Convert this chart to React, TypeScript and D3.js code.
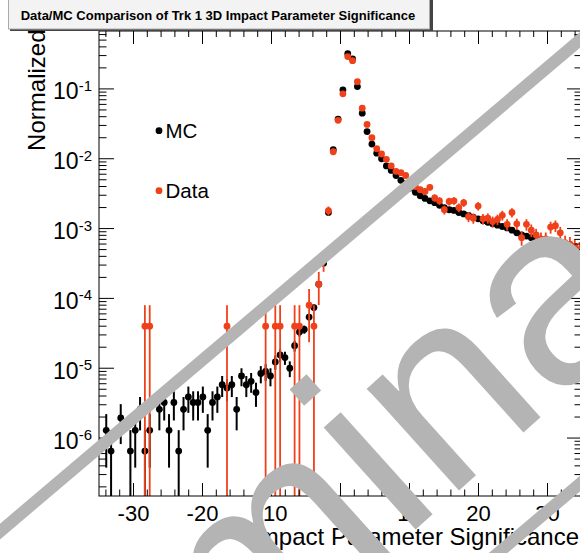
import React from "react";
import * as d3 from "d3";

// ---------- data ----------
const BIN_LOW = -35;
const BIN_WIDTH = 0.7;
const MC_UNIT_WEIGHT = 6.46e-7;
const DATA_UNIT_WEIGHT = 3.98e-5;

const mcValues = [
  0, 1.29e-6, 6.5e-7, 0, 1.94e-6, 0, 6.5e-7, 1.29e-6, 2.58e-6, 6.5e-7,
  1.29e-6, 0, 2.58e-6, 3.23e-6, 1.29e-6, 3.23e-6, 6.5e-7, 2.58e-6, 3.88e-6, 3.23e-6,
  3.23e-6, 3.88e-6, 1.29e-6, 3.23e-6, 3.88e-6, 5.8e-6, 5.2e-6, 5.8e-6, 2.58e-6, 7.75e-6,
  5.8e-6, 6.5e-6, 4.5e-6, 8.4e-6, 9.0e-6, 7.75e-6, 1.23e-5, 1.55e-5, 1.42e-5, 1.0e-5,
  2.1e-5, 3.3e-5, 3.6e-5, 5.4e-5, 7.4e-5, 1.6e-4, 3.2e-4, 1.7e-3, 1.35e-2, 3.7e-2,
  9.7e-2, 3.2e-1, 2.7e-1, 1.08e-1, 4.5e-2, 2.45e-2, 1.62e-2, 1.2e-2, 1.0e-2, 7.9e-3,
  6.8e-3, 5.75e-3, 4.9e-3, 4.4e-3, 3.8e-3, 3.3e-3, 2.95e-3, 2.7e-3, 2.5e-3, 2.35e-3,
  2.15e-3, 2.0e-3, 1.86e-3, 1.82e-3, 1.7e-3, 1.62e-3, 1.55e-3, 1.45e-3, 1.38e-3, 1.29e-3,
  1.23e-3, 1.17e-3, 1.12e-3, 1.07e-3, 1.02e-3, 9.5e-4, 8.7e-4, 8.1e-4, 7.8e-4, 7.4e-4,
  7.1e-4, 6.9e-4, 6.6e-4, 6.5e-4, 6.2e-4, 5.9e-4, 5.6e-4, 5.4e-4, 5.1e-4, 4.9e-4,
];

const dataValues = [
  0, 0, 0, 0, 0, 0, 0, 0, 0, 4e-5,
  4e-5, 0, 0, 0, 0, 0, 0, 0, 0, 0,
  0, 0, 0, 0, 0, 0, 4e-5, 0, 0, 0,
  0, 0, 0, 0, 4e-5, 0, 4e-5, 4e-5, 0, 0,
  4e-5, 4e-5, 0, 8e-5, 4e-5, 1.6e-4, 3.6e-4, 1.8e-3, 1.26e-2, 3.55e-2,
  8.5e-2, 2.9e-1, 2.54e-1, 1.27e-1, 5.3e-2, 3.1e-2, 2.0e-2, 1.39e-2, 1.17e-2, 9.8e-3,
  7.9e-3, 6.6e-3, 6.3e-3, 5.75e-3, 4.4e-3, 4.0e-3, 3.6e-3, 3.4e-3, 3.9e-3, 2.75e-3,
  2.5e-3, 1.86e-3, 2.45e-3, 2.5e-3, 2.0e-3, 2.35e-3, 1.48e-3, 1.41e-3, 2.1e-3, 1.38e-3,
  1.41e-3, 1.26e-3, 1.35e-3, 1.55e-3, 1.15e-3, 1.7e-3, 1.17e-3, 7.4e-4, 1.15e-3, 9.5e-4,
  8.1e-4, 7.1e-4, 7.1e-4, 1.05e-3, 1.1e-3, 8.7e-4, 6.3e-4, 6.0e-4, 5.6e-4, 5.0e-4,
];

const xTickValues = [-30, -20, -10, 0, 10, 20, 30];
const xTickLabels = ["-30", "-20", "-10", "0", "10", "20", "30"];
const yDecadeExponents = [-6, -5, -4, -3, -2, -1];
const legendLabels = ["MC", "Data"];
const TITLE = "Data/MC Comparison of Trk 1 3D Impact Parameter Significance";
const X_TITLE = "Impact Parameter Significance";
const Y_TITLE = "Normalized";
const WATERMARK = "Preliminary";

// ---------- layout ----------
const W = 580;
const H = 553;
const L = 99, R = 582, T = 31, B = 496;
const FONT = "'Liberation Sans', Arial, Helvetica, sans-serif";
const RED = "#f0401a";
const GRAY = "#b4b4b4";

export default function App() {
  const x = d3.scaleLinear().domain([-35, 35]).range([L, R]);
  const y = d3.scaleLog().domain([1.48e-7, 0.675]).range([B, T]);

  const centers = mcValues.map((_, k) => BIN_LOW + BIN_WIDTH * (k + 0.5));

  const series = [
    { name: "MC", values: mcValues, w: MC_UNIT_WEIGHT, color: "#000", sw: 2 },
    { name: "Data", values: dataValues, w: DATA_UNIT_WEIGHT, color: RED, sw: 1.8 },
  ];

  const minorX = d3.range(-34, 35, 2).filter((v) => v % 10 !== 0);
  const minorY: number[] = [];
  for (let d = -7; d <= 0; d++) {
    for (let m = 2; m <= 9; m++) {
      const v = m * Math.pow(10, d);
      if (v > y.domain()[0] && v < y.domain()[1]) minorY.push(v);
    }
  }

  const bar = (v: number, w: number) => {
    const e = Math.sqrt(v * w);
    const lo = v - e;
    const hi = v + e;
    const y1 = lo > y.domain()[0] ? y(lo) : B + 2;
    return [y1, y(hi)];
  };

  return (
    <svg width={W} height={H} style={{ display: "block", position: "absolute", left: 0, top: 0, background: "#fff" }}>
      <defs>
        <clipPath id="frame">
          <rect x={L} y={T} width={R - L} height={B - T} />
        </clipPath>
      </defs>
      <rect x={0} y={0} width={W} height={H} fill="#fff" />

      {/* y title */}
      <text
        transform={`translate(45,29.5) rotate(-90)`}
        textAnchor="end"
        fontFamily={FONT}
        fontSize={24}
        fill="#000"
      >
        {Y_TITLE}
      </text>

      {/* x title */}
      <text x={579} y={545} textAnchor="end" fontFamily={FONT} fontSize={24} fill="#000">
        {X_TITLE}
      </text>

      {/* data */}
      <g clipPath="url(#frame)">
        {series.map((s) => (
          <g key={s.name}>
            {s.values.map((v, k) => {
              if (v <= 0) return null;
              const [y1, y2] = bar(v, s.w);
              const cx = x(centers[k]);
              return (
                <g key={k}>
                  <line x1={cx} x2={cx} y1={y1} y2={y2} stroke={s.color} strokeWidth={s.sw} />
                  <circle cx={cx} cy={y(v)} r={3.4} fill={s.color} />
                </g>
              );
            })}
          </g>
        ))}
      </g>

      {/* frame */}
      <rect x={L} y={T} width={R - L} height={B - T} fill="none" stroke="#000" strokeWidth={1} />

      {/* x ticks */}
      {xTickValues.map((v) => (
        <g key={"xt" + v}>
          <line x1={x(v)} x2={x(v)} y1={B} y2={B - 13} stroke="#000" strokeWidth={1} />
          <line x1={x(v)} x2={x(v)} y1={T} y2={T + 13} stroke="#000" strokeWidth={1} />
        </g>
      ))}
      {minorX.map((v) => (
        <g key={"xm" + v}>
          <line x1={x(v)} x2={x(v)} y1={B} y2={B - 6.5} stroke="#000" strokeWidth={1} />
          <line x1={x(v)} x2={x(v)} y1={T} y2={T + 6} stroke="#000" strokeWidth={1} />
        </g>
      ))}
      {xTickValues.map((v, i) => (
        <text key={"xl" + v} x={x(v)} y={521} textAnchor="middle" fontFamily={FONT} fontSize={22} fill="#000">
          {xTickLabels[i]}
        </text>
      ))}

      {/* y ticks */}
      {yDecadeExponents.map((e) => {
        const yy = y(Math.pow(10, e));
        return (
          <g key={"yt" + e}>
            <line x1={L} x2={L + 15} y1={yy} y2={yy} stroke="#000" strokeWidth={1} />
            <line x1={R} x2={R - 15} y1={yy} y2={yy} stroke="#000" strokeWidth={1} />
            <text x={92} y={yy + 10.5} textAnchor="end" fontFamily={FONT} fontSize={23} fill="#000">
              10
              <tspan dy={-8.5} fontSize={15}>{String(e)}</tspan>
            </text>
          </g>
        );
      })}
      {minorY.map((v, i) => (
        <g key={"ym" + i}>
          <line x1={L} x2={L + 7.5} y1={y(v)} y2={y(v)} stroke="#000" strokeWidth={1} />
          <line x1={R} x2={R - 7.5} y1={y(v)} y2={y(v)} stroke="#000" strokeWidth={1} />
        </g>
      ))}

      {/* legend */}
      {legendLabels.map((lab, i) => (
        <g key={lab}>
          <circle cx={159} cy={130.7 + i * 60} r={3.4} fill={i === 0 ? "#000" : RED} />
          <text x={165.5} y={138 + i * 60} fontFamily={FONT} fontSize={20.5} fill="#000">
            {lab}
          </text>
        </g>
      ))}

      {/* watermark */}
      <line x1={-10} y1={540} x2={600} y2={23} stroke={GRAY} strokeWidth={12} />
      <line x1={196} y1={809} x2={806} y2={292} stroke={GRAY} strokeWidth={12} />
      <text
        transform="translate(-144.8,1034.2) rotate(-42)"
        fontFamily={FONT}
        fontSize={260}
        fill={GRAY}
      >
        {WATERMARK}
      </text>

      {/* title box */}
      <rect x={10} y={-4} width={423} height={35} fill="#444" />
      <rect x={8.5} y={-5} width={421} height={34} fill="#f3f3f3" stroke="#aaa" strokeWidth={1} />
      <text x={20.7} y={20} fontFamily={FONT} fontSize={13} fontWeight="bold" fill="#000">
        {TITLE}
      </text>
    </svg>
  );
}
